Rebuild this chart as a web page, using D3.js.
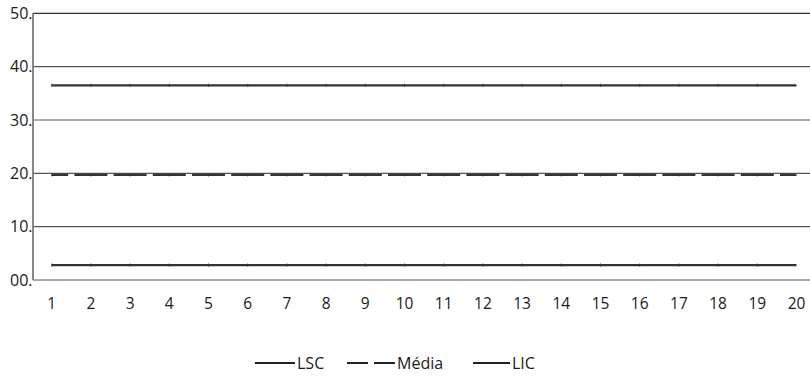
<!DOCTYPE html>
<html>
<head>
<meta charset="utf-8">
<script src="https://cdn.jsdelivr.net/npm/d3@7"></script>
<style>
  html, body { margin: 0; padding: 0; background: #fff; }
  svg { display: block; }
  text { font-family: "Open Sans", "Noto Sans", sans-serif; fill: #1a1a1a; }
</style>
</head>
<body>
<svg id="chart" width="810" height="376"></svg>
<script>
const categories = ["1","2","3","4","5","6","7","8","9","10","11","12","13","14","15","16","17","18","19","20"];
const lsc   = [36.5,36.5,36.5,36.5,36.5,36.5,36.5,36.5,36.5,36.5,36.5,36.5,36.5,36.5,36.5,36.5,36.5,36.5,36.5,36.5];
const media = [19.7,19.7,19.7,19.7,19.7,19.7,19.7,19.7,19.7,19.7,19.7,19.7,19.7,19.7,19.7,19.7,19.7,19.7,19.7,19.7];
const lic   = [2.8,2.8,2.8,2.8,2.8,2.8,2.8,2.8,2.8,2.8,2.8,2.8,2.8,2.8,2.8,2.8,2.8,2.8,2.8,2.8];
const yTickValues = [0, 10, 20, 30, 40, 50];
const yTickLabels = ["00.", "10.", "20.", "30.", "40.", "50."];
const seriesNames = ["LSC", "Média", "LIC"];

const svg = d3.select("#chart");
const plotLeft = 33, plotRight = 810, plotTop = 13.3, plotBottom = 280;

const x = d3.scalePoint().domain(categories).range([51.7, 796.5]);
const y = d3.scaleLinear().domain([0, 50]).range([plotBottom, plotTop]);

// gridlines
svg.append("g").selectAll("line").data(yTickValues.slice(1)).join("line")
  .attr("x1", plotLeft).attr("x2", plotRight)
  .attr("y1", d => y(d)).attr("y2", d => y(d))
  .attr("stroke", d => d === 50 ? "#333" : "#555").attr("stroke-width", 1.2);

// bottom axis line
svg.append("line").attr("x1", plotLeft).attr("x2", plotRight)
  .attr("y1", y(0)).attr("y2", y(0)).attr("stroke", "#555").attr("stroke-width", 1.2);

// left axis line
svg.append("line").attr("x1", plotLeft).attr("x2", plotLeft)
  .attr("y1", y(50)).attr("y2", y(0)).attr("stroke", "#888").attr("stroke-width", 2);

// y tick labels
svg.append("g").selectAll("text").data(yTickValues).join("text")
  .attr("x", plotLeft - 0.5).attr("y", d => y(d)).attr("dy", "0.36em")
  .attr("text-anchor", "end").attr("font-size", 16)
  .text((d, i) => yTickLabels[i]);

// x tick labels
svg.append("g").selectAll("text").data(categories).join("text")
  .attr("x", d => x(d)).attr("y", 309)
  .attr("text-anchor", "middle").attr("font-size", 15.5)
  .text(d => d);

const step = x.step();
const series = [
  { name: seriesNames[0], values: lsc, dash: null },
  { name: seriesNames[1], values: media, dash: [step - 6.2, 6.2], offset: (step - 6.2) / 2 },
  { name: seriesNames[2], values: lic, dash: null }
];

const line = d3.line().x((d, i) => x(categories[i])).y(d => y(d));

series.forEach(s => {
  const p = svg.append("path").datum(s.values)
    .attr("d", line).attr("fill", "none")
    .attr("stroke", "#333").attr("stroke-width", 2.2);
  if (s.dash) p.attr("stroke-dasharray", s.dash.join(",")).attr("stroke-dashoffset", s.offset);
  // small tick markers at points
  svg.append("g").selectAll("line").data(s.values.slice(0, -1)).join("line")
    .attr("x1", (d, i) => x(categories[i])).attr("x2", (d, i) => x(categories[i]))
    .attr("y1", d => y(d) - 1.6).attr("y2", d => y(d) + 1.6)
    .attr("stroke", "#333").attr("stroke-width", 0.8);
});

// legend
const legendY = 363;
const legendItems = [
  { name: seriesNames[0], x1: 255, x2: 295, dash: null, tx: 297 },
  { name: seriesNames[1], x1: 347, x2: 395, dash: "21,6", tx: 397 },
  { name: seriesNames[2], x1: 473, x2: 510, dash: null, tx: 512 }
];
const lg = svg.append("g");
legendItems.forEach(it => {
  const l = lg.append("line").attr("x1", it.x1).attr("x2", it.x2)
    .attr("y1", legendY).attr("y2", legendY)
    .attr("stroke", "#222").attr("stroke-width", 2.2);
  if (it.dash) l.attr("stroke-dasharray", it.dash);
  lg.append("text").attr("x", it.tx).attr("y", legendY).attr("dy", "0.36em")
    .attr("font-size", 16).text(it.name);
});
</script>
</body>
</html>
